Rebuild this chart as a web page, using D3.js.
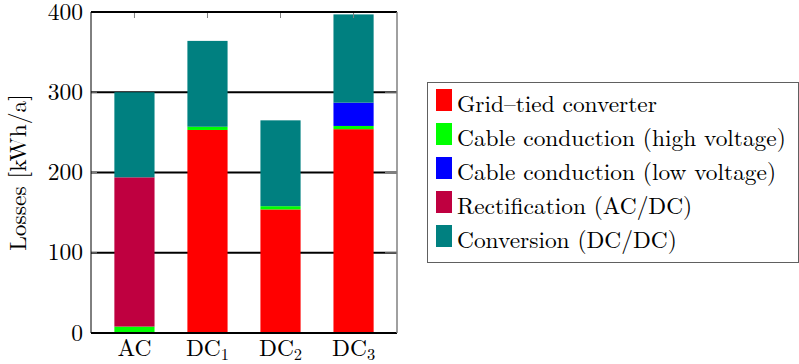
<!DOCTYPE html>
<html><head><meta charset="utf-8">
<script src="https://cdn.jsdelivr.net/npm/d3@7/dist/d3.min.js"></script>
<style>body{margin:0;background:#fff}svg{display:block}</style>
</head><body>
<svg id="c" width="799" height="364"></svg>
<script>
const categories = ["AC", "DC1", "DC2", "DC3"];
const seriesNames = ["Grid–tied converter", "Cable conduction (high voltage)", "Cable conduction (low voltage)", "Rectification (AC/DC)", "Conversion (DC/DC)"];
const gridTied = [0, 253, 154, 254];
const cableHV = [8, 4, 4, 4];
const cableLV = [0, 0, 0, 29];
const rectification = [186, 0, 0, 0];
const conversion = [106, 107, 107, 110];
const colors = ["#ff0000", "#00ff00", "#0000ff", "#bf0040", "#008080"];
const yTicks = [0, 100, 200, 300, 400];

const FONT = "Latin Modern Roman";
const keys = ["g", "h", "l", "r", "c"];
const table = categories.map((c, i) => ({cat: c, g: gridTied[i], h: cableHV[i], l: cableLV[i], r: rectification[i], c: conversion[i]}));
const stacked = d3.stack().keys(keys)(table);

const svg = d3.select("#c");
const L = 91, R = 397, T = 12, B = 333;
const x = d3.scaleBand().domain(categories).range([L, R]).paddingInner(0.45).paddingOuter(0.32);
const y = d3.scaleLinear().domain([0, 400]).range([B, T]);

// grid
svg.append("g").selectAll("line").data(yTicks.slice(1, 4)).join("line")
  .attr("x1", L).attr("x2", R).attr("y1", d => y(d)).attr("y2", d => y(d))
  .attr("stroke", "#000").attr("stroke-width", 1.8);

// bars
svg.append("g").selectAll("g").data(stacked).join("g")
  .attr("fill", (d, i) => colors[i])
  .selectAll("rect").data(d => d).join("rect")
  .attr("x", d => x(d.data.cat)).attr("width", x.bandwidth())
  .attr("y", d => y(d[1])).attr("height", d => Math.max(0, y(d[0]) - y(d[1])));

// tick marks
const tk = svg.append("g").attr("stroke", "#808080").attr("stroke-width", 1);
yTicks.forEach(t => {
  tk.append("line").attr("x1", L).attr("x2", L + 6).attr("y1", y(t)).attr("y2", y(t));
  tk.append("line").attr("x1", R - 12).attr("x2", R).attr("y1", y(t)).attr("y2", y(t));
});
categories.forEach(c => {
  const cx = x(c) + x.bandwidth() / 2;
  tk.append("line").attr("x1", cx).attr("x2", cx).attr("y1", T).attr("y2", T + 6);
});

// frame
svg.append("line").attr("x1", L).attr("x2", R).attr("y1", T).attr("y2", T).attr("stroke", "#000").attr("stroke-width", 1.8);
svg.append("line").attr("x1", L).attr("x2", R).attr("y1", B).attr("y2", B).attr("stroke", "#000").attr("stroke-width", 1.8);
svg.append("line").attr("x1", L).attr("x2", L).attr("y1", T).attr("y2", B).attr("stroke", "#000").attr("stroke-width", 1);
svg.append("line").attr("x1", R).attr("x2", R).attr("y1", T).attr("y2", B).attr("stroke", "#808080").attr("stroke-width", 1.5);

// y tick labels
svg.append("g").selectAll("text").data(yTicks).join("text")
  .style("font-family", FONT)
  .attr("x", L - 8).attr("y", d => y(d) + 7.5).attr("text-anchor", "end")
  .attr("font-size", 23.5).text(d => d);

// x tick labels
const xl = svg.append("g").selectAll("text").data(categories).join("text")
  .style("font-family", FONT)
  .attr("x", d => x(d) + x.bandwidth() / 2).attr("y", 356).attr("text-anchor", "middle")
  .attr("font-size", 23.5);
xl.each(function(d) {
  const t = d3.select(this);
  const m = d.match(/^([A-Z]+)(\d*)$/);
  t.append("tspan").text(m[1]);
  if (m[2]) t.append("tspan").attr("font-size", 16.5).attr("dy", 3.5).text(m[2]);
});

// y label
svg.append("text").style("font-family", FONT)
  .attr("transform", `translate(26,${(T + B) / 2}) rotate(-90)`)
  .attr("text-anchor", "middle").attr("font-size", 23.5).text("Losses [kWh/a]");

// legend
svg.append("rect").attr("x", 427.5).attr("y", 82.5).attr("width", 371).attr("height", 180)
  .attr("fill", "#fff").attr("stroke", "#606060").attr("stroke-width", 1);
const lg = svg.append("g").selectAll("g").data(seriesNames).join("g")
  .attr("transform", (d, i) => `translate(436,${112 + i * 34})`);
lg.append("rect").attr("x", 0).attr("y", -23).attr("width", 16).attr("height", 22).attr("fill", (d, i) => colors[i]);
lg.append("text").style("font-family", FONT).attr("x", 21).attr("y", 0).attr("font-size", 23.4).text(d => d);
</script>
</body></html>
